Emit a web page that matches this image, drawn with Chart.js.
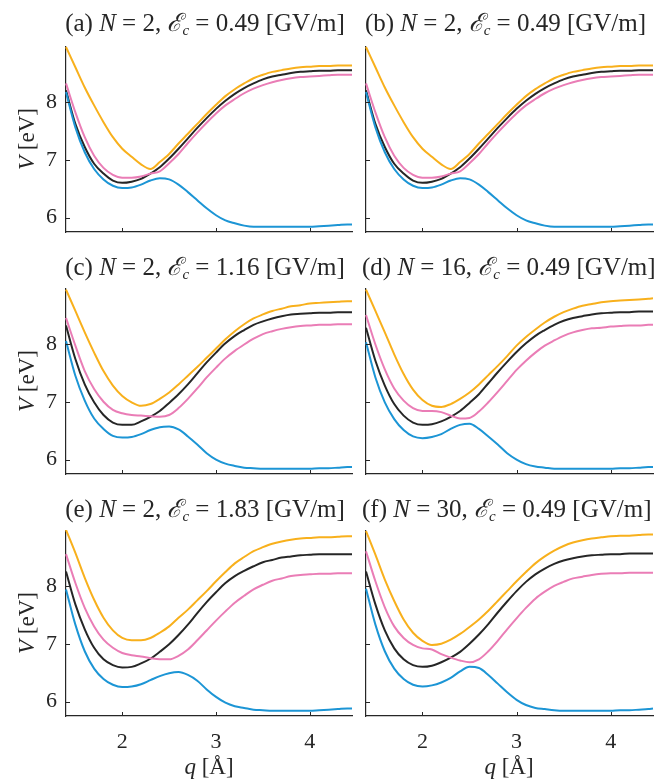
<!DOCTYPE html>
<html lang="en">
<head>
    <meta charset="UTF-8">
    <title>Potential curves</title>
    <script src="https://cdn.jsdelivr.net/npm/chart.js@4.4.1/dist/chart.umd.min.js"></script>
    <style>
        body { margin: 0; background: #fff; }
        #wrap { position: relative; width: 657px; height: 780px; font-family: "Liberation Serif", "DejaVu Serif", serif; color: #262626; }
        canvas { position: absolute; }
        .ttl { position: absolute; font-size: 25px; line-height: 25px; text-align: center; white-space: nowrap; }
        .ttl sub { font-size: 15px; vertical-align: -4px; line-height: 0; }
        .ylab { position: absolute; font-size: 23px; white-space: nowrap; transform: translate(-50%, -50%) rotate(-90deg); }
        .xlab { position: absolute; font-size: 23px; white-space: nowrap; transform: translate(-50%, -50%); }
    </style>
</head>
<body>
<div id="wrap">
    <canvas id="pa" width="355" height="240" style="left:0;top:0"></canvas>
    <canvas id="pb" width="302" height="240" style="left:355px;top:0"></canvas>
    <canvas id="pc" width="355" height="244" style="left:0;top:240px"></canvas>
    <canvas id="pd" width="302" height="244" style="left:355px;top:240px"></canvas>
    <canvas id="pe" width="355" height="296" style="left:0;top:484px"></canvas>
    <canvas id="pf" width="302" height="296" style="left:355px;top:484px"></canvas>

    <div class="ttl" style="left:62px;width:286px;top:10px">(a) <i>N</i> = 2, <i>ℰ<sub>c</sub></i> = 0.49 [GV/m]</div>
    <div class="ttl" style="left:362px;width:287px;top:10px">(b) <i>N</i> = 2, <i>ℰ<sub>c</sub></i> = 0.49 [GV/m]</div>
    <div class="ttl" style="left:62px;width:286px;top:254px">(c) <i>N</i> = 2, <i>ℰ<sub>c</sub></i> = 1.16 [GV/m]</div>
    <div class="ttl" style="left:362px;width:287px;top:254px">(d) <i>N</i> = 16, <i>ℰ<sub>c</sub></i> = 0.49 [GV/m]</div>
    <div class="ttl" style="left:62px;width:286px;top:496px">(e) <i>N</i> = 2, <i>ℰ<sub>c</sub></i> = 1.83 [GV/m]</div>
    <div class="ttl" style="left:362px;width:287px;top:496px">(f) <i>N</i> = 30, <i>ℰ<sub>c</sub></i> = 0.49 [GV/m]</div>

    <div class="ylab" style="left:27px;top:139px"><i>V</i> [eV]</div>
    <div class="ylab" style="left:27px;top:381px"><i>V</i> [eV]</div>
    <div class="ylab" style="left:27px;top:623px"><i>V</i> [eV]</div>
    <div class="xlab" style="left:209px;top:767px"><i>q</i> [Å]</div>
    <div class="xlab" style="left:509px;top:767px"><i>q</i> [Å]</div>
</div>

<script>
// q grid [Å]
const qGrid = [1.4, 1.5, 1.6, 1.7, 1.8, 1.9, 2.0, 2.1, 2.2, 2.3, 2.4, 2.5, 2.6, 2.7, 2.8, 2.9, 3.0,
               3.1, 3.2, 3.3, 3.4, 3.5, 3.6, 3.7, 3.8, 3.9, 4.0, 4.1, 4.2, 4.3, 4.4, 4.45];
const qTicks = [2, 3, 4];
const vTicks = [6, 7, 8];

// (a) and (b): N=2, Ec=0.49
const aOrange = [8.95, 8.60, 8.25, 7.94, 7.65, 7.39, 7.19, 7.05, 6.92, 6.84, 6.96, 7.10, 7.28, 7.45, 7.62, 7.79, 7.95,
                 8.10, 8.22, 8.32, 8.41, 8.47, 8.52, 8.55, 8.58, 8.60, 8.61, 8.62, 8.62, 8.63, 8.63, 8.63];
const aBlack  = [8.20, 7.62, 7.22, 6.93, 6.76, 6.64, 6.60, 6.62, 6.67, 6.76, 6.87, 7.02, 7.19, 7.37, 7.55, 7.72, 7.88,
                 8.02, 8.14, 8.24, 8.32, 8.39, 8.44, 8.47, 8.50, 8.52, 8.53, 8.54, 8.54, 8.55, 8.55, 8.55];
const aPink   = [8.32, 7.82, 7.39, 7.07, 6.86, 6.74, 6.69, 6.69, 6.71, 6.76, 6.80, 6.94, 7.10, 7.29, 7.47, 7.64, 7.80,
                 7.94, 8.05, 8.15, 8.23, 8.29, 8.34, 8.38, 8.41, 8.43, 8.44, 8.45, 8.46, 8.47, 8.47, 8.47];
const aBlue   = [8.17, 7.56, 7.13, 6.84, 6.66, 6.55, 6.51, 6.52, 6.57, 6.64, 6.68, 6.66, 6.57, 6.44, 6.30, 6.16, 6.04,
                 5.95, 5.90, 5.86, 5.84, 5.84, 5.84, 5.84, 5.84, 5.84, 5.84, 5.85, 5.86, 5.87, 5.88, 5.88];

// (c): N=2, Ec=1.16
const cOrange = [8.94, 8.57, 8.20, 7.85, 7.53, 7.28, 7.10, 6.99, 6.93, 6.96, 7.05, 7.16, 7.30, 7.45, 7.60, 7.76, 7.92,
                 8.08, 8.22, 8.34, 8.44, 8.51, 8.57, 8.61, 8.65, 8.67, 8.70, 8.71, 8.72, 8.73, 8.74, 8.74];
const cBlack  = [8.32, 7.74, 7.30, 6.99, 6.77, 6.64, 6.60, 6.60, 6.66, 6.74, 6.84, 6.98, 7.13, 7.30, 7.49, 7.68, 7.85,
                 8.01, 8.14, 8.24, 8.33, 8.39, 8.44, 8.48, 8.51, 8.52, 8.53, 8.54, 8.54, 8.55, 8.55, 8.55];
const cPink   = [8.45, 7.97, 7.53, 7.22, 7.00, 6.86, 6.80, 6.77, 6.76, 6.75, 6.74, 6.77, 6.89, 7.05, 7.23, 7.42, 7.59,
                 7.75, 7.88, 7.99, 8.09, 8.17, 8.22, 8.26, 8.29, 8.31, 8.32, 8.33, 8.33, 8.34, 8.34, 8.34];
const cBlue   = [8.05, 7.45, 7.02, 6.71, 6.53, 6.41, 6.38, 6.39, 6.44, 6.51, 6.56, 6.57, 6.52, 6.40, 6.26, 6.11, 6.00,
                 5.93, 5.89, 5.86, 5.85, 5.84, 5.84, 5.84, 5.84, 5.84, 5.84, 5.85, 5.85, 5.86, 5.87, 5.87];

// (d): N=16, Ec=0.49
const dOrange = [8.94, 8.57, 8.20, 7.82, 7.48, 7.21, 7.03, 6.93, 6.91, 6.96, 7.05, 7.16, 7.30, 7.46, 7.62, 7.79, 7.97,
                 8.12, 8.25, 8.37, 8.47, 8.55, 8.61, 8.66, 8.69, 8.72, 8.74, 8.75, 8.76, 8.77, 8.78, 8.79];
const dBlack  = [8.28, 7.71, 7.28, 6.96, 6.76, 6.64, 6.60, 6.61, 6.66, 6.74, 6.84, 6.98, 7.13, 7.32, 7.51, 7.69, 7.86,
                 8.01, 8.14, 8.24, 8.33, 8.40, 8.45, 8.48, 8.51, 8.53, 8.54, 8.55, 8.55, 8.56, 8.56, 8.56];
const dPink   = [8.50, 7.99, 7.56, 7.23, 7.02, 6.89, 6.84, 6.84, 6.82, 6.76, 6.71, 6.72, 6.83, 6.99, 7.17, 7.36, 7.55,
                 7.71, 7.85, 7.97, 8.06, 8.14, 8.20, 8.24, 8.27, 8.28, 8.30, 8.31, 8.32, 8.32, 8.33, 8.33];
const dBlue   = [8.03, 7.42, 6.99, 6.70, 6.51, 6.40, 6.37, 6.39, 6.44, 6.53, 6.60, 6.62, 6.53, 6.40, 6.26, 6.11, 6.00,
                 5.92, 5.88, 5.86, 5.84, 5.84, 5.84, 5.84, 5.84, 5.84, 5.84, 5.85, 5.85, 5.86, 5.87, 5.87];

// (e): N=2, Ec=1.83
const eOrange = [8.97, 8.57, 8.14, 7.76, 7.45, 7.23, 7.10, 7.06, 7.06, 7.10, 7.19, 7.30, 7.45, 7.59, 7.75, 7.91, 8.08,
                 8.24, 8.39, 8.50, 8.60, 8.67, 8.73, 8.77, 8.80, 8.82, 8.83, 8.84, 8.84, 8.85, 8.86, 8.86];
const eBlack  = [8.25, 7.68, 7.25, 6.93, 6.73, 6.63, 6.59, 6.60, 6.66, 6.74, 6.86, 6.99, 7.15, 7.33, 7.53, 7.72, 7.89,
                 8.05, 8.17, 8.26, 8.34, 8.41, 8.45, 8.49, 8.51, 8.53, 8.54, 8.55, 8.55, 8.55, 8.55, 8.55];
const ePink   = [8.55, 8.05, 7.62, 7.30, 7.07, 6.93, 6.84, 6.80, 6.78, 6.75, 6.73, 6.73, 6.79, 6.90, 7.06, 7.23, 7.40,
                 7.56, 7.71, 7.83, 7.94, 8.02, 8.09, 8.13, 8.17, 8.19, 8.20, 8.21, 8.21, 8.22, 8.22, 8.22];
const eBlue   = [7.94, 7.33, 6.87, 6.57, 6.39, 6.29, 6.25, 6.26, 6.30, 6.37, 6.44, 6.49, 6.51, 6.46, 6.36, 6.21, 6.08,
                 5.98, 5.92, 5.89, 5.86, 5.85, 5.84, 5.84, 5.84, 5.84, 5.84, 5.85, 5.86, 5.87, 5.88, 5.88];

// (f): N=30, Ec=0.49
const fOrange = [8.95, 8.54, 8.11, 7.74, 7.42, 7.19, 7.05, 6.98, 7.00, 7.07, 7.17, 7.29, 7.42, 7.57, 7.74, 7.91, 8.08,
                 8.24, 8.39, 8.51, 8.61, 8.69, 8.75, 8.79, 8.82, 8.84, 8.86, 8.87, 8.87, 8.88, 8.89, 8.89];
const fBlack  = [8.25, 7.68, 7.23, 6.92, 6.73, 6.63, 6.60, 6.62, 6.68, 6.76, 6.86, 7.00, 7.16, 7.34, 7.54, 7.73, 7.91,
                 8.07, 8.20, 8.30, 8.38, 8.44, 8.48, 8.51, 8.53, 8.54, 8.55, 8.55, 8.56, 8.56, 8.56, 8.56];
const fPink   = [8.60, 8.08, 7.63, 7.30, 7.10, 6.98, 6.92, 6.90, 6.82, 6.76, 6.71, 6.68, 6.73, 6.87, 7.05, 7.25, 7.44,
                 7.62, 7.78, 7.90, 8.00, 8.07, 8.13, 8.16, 8.19, 8.21, 8.22, 8.22, 8.23, 8.23, 8.23, 8.23];
const fBlue   = [7.95, 7.33, 6.87, 6.57, 6.39, 6.29, 6.26, 6.28, 6.33, 6.41, 6.52, 6.60, 6.58, 6.46, 6.31, 6.16, 6.03,
                 5.94, 5.89, 5.87, 5.85, 5.84, 5.84, 5.84, 5.84, 5.84, 5.84, 5.85, 5.85, 5.86, 5.87, 5.88];

const colors = ['#f8b01c', '#262626', '#ea7db6', '#1c95d5'];
const axisColor = '#262626';

// short ticks pointing into the plot, like MATLAB
const inwardTicks = {
    id: 'inwardTicks',
    afterDraw(chart) {
        const ctx = chart.ctx, a = chart.chartArea;
        const xs = chart.scales.x, ys = chart.scales.y;
        ctx.save();
        ctx.strokeStyle = axisColor;
        ctx.lineWidth = 1;
        ctx.beginPath();
        qTicks.forEach(q => {
            const px = Math.round(xs.getPixelForValue(q)) + 0.5;
            ctx.moveTo(px, a.bottom);
            ctx.lineTo(px, a.bottom - 4);
        });
        vTicks.forEach(v => {
            const py = Math.round(ys.getPixelForValue(v)) + 0.5;
            ctx.moveTo(a.left, py);
            ctx.lineTo(a.left + 4, py);
        });
        ctx.stroke();
        ctx.restore();
    }
};

// fixed axis size, no extra room for the end labels
function fixSize(s, size) {
    if (s.isHorizontal()) s.height = size; else s.width = size;
    s.paddingTop = 0; s.paddingBottom = 0; s.paddingLeft = 0; s.paddingRight = 0;
}

function makePanel(id, series, leftCol, bottomRow, axisH, padTop) {
    const datasets = series.map((vals, i) => ({
        data: qGrid.map((q, k) => ({ x: q, y: vals[k] })),
        borderColor: colors[i],
        borderWidth: 2,
        pointRadius: 0,
        fill: false,
        cubicInterpolationMode: 'monotone',
        clip: 1
    }));
    // draw order: blue, pink, black, orange on top
    datasets.reverse();
    return new Chart(document.getElementById(id), {
        type: 'line',
        data: { datasets: datasets },
        plugins: [inwardTicks],
        options: {
            responsive: false,
            animation: false,
            layout: { padding: { top: padTop, right: leftCol ? 3 : 4, left: 0, bottom: 0 } },
            plugins: { legend: { display: false }, tooltip: { enabled: false } },
            scales: {
                x: {
                    type: 'linear', min: 1.4, max: 4.45,
                    grid: { display: false, drawTicks: false },
                    border: { display: true, color: axisColor, width: 1.2 },
                    afterBuildTicks: s => { s.ticks = qTicks.map(v => ({ value: v })); },
                    afterFit: s => fixSize(s, axisH),
                    ticks: {
                        display: bottomRow, padding: 13, color: axisColor,
                        maxRotation: 0,
                        font: { family: '"Liberation Serif", serif', size: 22 }
                    }
                },
                y: {
                    type: 'linear', min: 5.75, max: 8.95,
                    grid: { display: false, drawTicks: false },
                    border: { display: true, color: axisColor, width: 1.2 },
                    afterBuildTicks: s => { s.ticks = vTicks.map(v => ({ value: v })); },
                    afterFit: s => fixSize(s, leftCol ? 66 : 11),
                    ticks: {
                        display: leftCol, padding: 9, color: axisColor,
                        font: { family: '"Liberation Serif", serif', size: 22 }
                    }
                }
            }
        }
    });
}

makePanel('pa', [aOrange, aBlack, aPink, aBlue], true,  false, 8, 47);
makePanel('pb', [aOrange, aBlack, aPink, aBlue], false, false, 8, 47);
makePanel('pc', [cOrange, cBlack, cPink, cBlue], true,  false, 10, 49);
makePanel('pd', [dOrange, dBlack, dPink, dBlue], false, false, 10, 49);
makePanel('pe', [eOrange, eBlack, ePink, eBlue], true,  true, 64, 47);
makePanel('pf', [fOrange, fBlack, fPink, fBlue], false, true, 64, 47);
</script>
</body>
</html>
